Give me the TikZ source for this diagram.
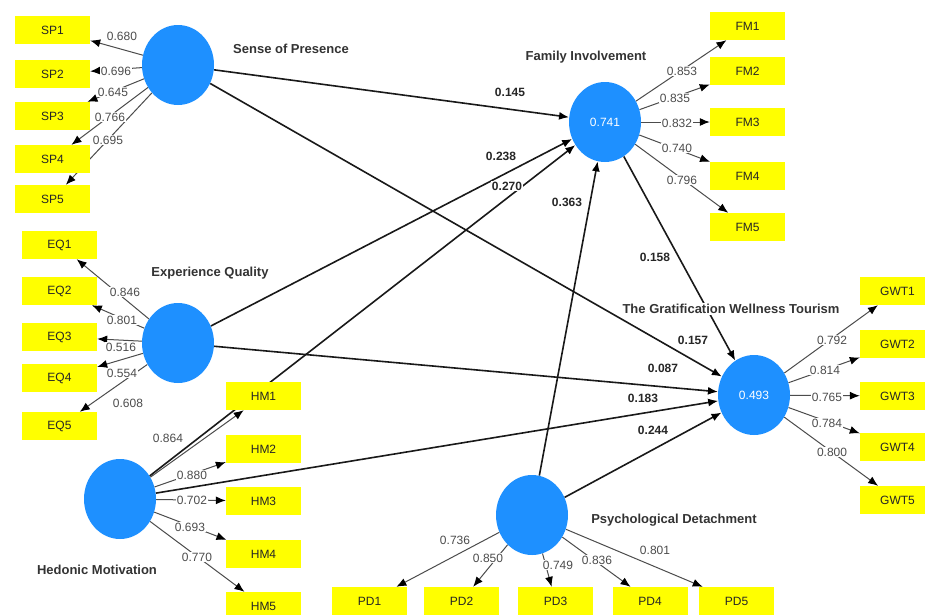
\documentclass[tikz,border=0pt]{standalone}
\usepackage{fontspec}
\setmainfont{Liberation Sans}
\usetikzlibrary{shapes.geometric,arrows.meta}
\pgfdeclarelayer{bg}
\pgfsetlayers{bg,main}
\definecolor{lvblue}{RGB}{30,144,255}
\definecolor{itemyellow}{RGB}{255,255,0}
\begin{document}
\begin{tikzpicture}[x=1pt,y=-1pt,
  lv/.style={ellipse, fill=lvblue, minimum width=72pt, minimum height=80pt, inner sep=0pt, text=white, font=\fontsize{12}{14}\selectfont},
  item/.style={fill=itemyellow, minimum width=75pt, minimum height=28pt, inner sep=0pt, font=\fontsize{12}{14}\selectfont, text=black!85},
  sarrow/.style={line width=1.6pt, draw=black!90, -{Latex[length=10pt,width=8pt,black]}},
  larrow/.style={line width=1pt, draw=black!70, -{Latex[length=10pt,width=8pt,black]}},
  coef/.style={fill=white, inner sep=1pt, font=\bfseries\fontsize{12}{14}\selectfont, text=black!85},
  ld/.style={fill=white, inner sep=1pt, font=\fontsize{12}{14}\selectfont, text=black!70},
  cname/.style={fill=white, inner sep=1pt, font=\bfseries\fontsize{13}{15}\selectfont, text=black!80}]
\useasboundingbox (0,0) rectangle (925,614);

% latent variables
\node[lv] (SP) at (178,65) {};
\node[lv] (EQ) at (178,343) {};
\node[lv] (HM) at (120,499) {};
\node[lv] (FM) at (605,122) {0.741};
\node[lv] (GWT) at (754,395) {0.493};
\node[lv] (PD) at (532,515) {};

% indicators
\foreach \i/\y in {1/30,2/74,3/116,4/159,5/199} \node[item] (SP\i) at (52.5,\y) {SP\i};
\foreach \i/\y in {1/245,2/291,3/337,4/378,5/426} \node[item] (EQ\i) at (59.5,\y) {EQ\i};
\foreach \i/\y in {1/396,2/449,3/501,4/554,5/606} \node[item] (HM\i) at (263.5,\y) {HM\i};
\foreach \i/\y in {1/26,2/71,3/122,4/176,5/227} \node[item] (FM\i) at (747.5,\y) {FM\i};
\foreach \i/\y in {1/291,2/344,3/396,4/447,5/500} \node[item] (GWT\i) at (897.5,\y) {GWT\i};
\foreach \i/\x in {1/369.5,2/461.5,3/555.5,4/650,5/736.5} \node[item] (PD\i) at (\x,601) {PD\i};

\begin{pgfonlayer}{bg}
  \fill[white] (0,0) rectangle (925,614);
  \foreach \i in {1,...,5} {
    \draw[larrow] (SP) -- (SP\i);
    \draw[larrow] (EQ) -- (EQ\i);
    \draw[larrow] (HM) -- (HM\i);
    \draw[larrow] (FM) -- (FM\i);
    \draw[larrow] (GWT) -- (GWT\i);
    \draw[larrow] (PD) -- (PD\i);
  }
  \draw[sarrow] (SP) -- (FM);
  \draw[sarrow] (SP) -- (GWT);
  \draw[sarrow] (EQ) -- (FM);
  \draw[sarrow] (HM) -- (FM);
  \draw[sarrow] (PD) -- (FM);
  \draw[sarrow] (FM) -- (GWT);
  \draw[sarrow] (EQ) -- (GWT);
  \draw[sarrow] (HM) -- (GWT);
  \draw[sarrow] (PD) -- (GWT);
\end{pgfonlayer}

% construct names
\node[cname] (nSP) at (291,49) {Sense of Presence};
\node[cname] (nFM) at (586,57) {Family Involvement};
\node[cname] (nEQ) at (210,273) {Experience Quality};
\node[cname] (nHM) at (97,570) {Hedonic Motivation};
\node[cname] (nGWT) at (731,309) {The Gratification Wellness Tourism};
\node[cname] (nPD) at (674,520) {Psychological Detachment};

% path coefficients
\node[coef] (c1) at (510,92) {0.145};
\node[coef] (c2) at (501,156) {0.238};
\node[coef] (c3) at (507,186) {0.270};
\node[coef] (c4) at (567,202) {0.363};
\node[coef] (c5) at (655,257) {0.158};
\node[coef] (c6) at (693,340) {0.157};
\node[coef] (c7) at (663,368) {0.087};
\node[coef] (c8) at (643,398) {0.183};
\node[coef] (c9) at (653,430) {0.244};

% outer loadings
\node[ld] (lsp1) at (122,36) {0.680};
\node[ld] (lsp2) at (116,71) {0.696};
\node[ld] (lsp3) at (113,92) {0.645};
\node[ld] (lsp4) at (110,117) {0.766};
\node[ld] (lsp5) at (108,140) {0.695};
\node[ld] (leq1) at (125,292) {0.846};
\node[ld] (leq2) at (122,320) {0.801};
\node[ld] (leq3) at (121,347) {0.516};
\node[ld] (leq4) at (122,373) {0.554};
\node[ld] (leq5) at (128,403) {0.608};
\node[ld] (lhm1) at (168,438) {0.864};
\node[ld] (lhm2) at (192,475) {0.880};
\node[ld] (lhm3) at (192,500) {0.702};
\node[ld] (lhm4) at (190,527) {0.693};
\node[ld] (lhm5) at (197,557) {0.770};
\node[ld] (lfm1) at (682,71) {0.853};
\node[ld] (lfm2) at (675,98) {0.835};
\node[ld] (lfm3) at (677,123) {0.832};
\node[ld] (lfm4) at (677,148) {0.740};
\node[ld] (lfm5) at (682,180) {0.796};
\node[ld] (lg1) at (832,340) {0.792};
\node[ld] (lg2) at (825,370) {0.814};
\node[ld] (lg3) at (827,397) {0.765};
\node[ld] (lg4) at (827,423) {0.784};
\node[ld] (lg5) at (832,452) {0.800};
\node[ld] (lpd1) at (455,540) {0.736};
\node[ld] (lpd2) at (488,558) {0.850};
\node[ld] (lpd3) at (558,565) {0.749};
\node[ld] (lpd4) at (597,560) {0.836};
\node[ld] (lpd5) at (655,550) {0.801};
\end{tikzpicture}
\end{document}
